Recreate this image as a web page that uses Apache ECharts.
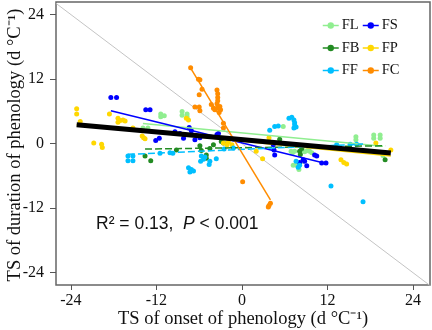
<!DOCTYPE html>
<html><head><meta charset="utf-8">
<script src="https://cdn.jsdelivr.net/npm/echarts@6/dist/echarts.min.js"></script>
<style>html,body{margin:0;padding:0;background:#fff}#c{width:432px;height:330px}</style>
</head><body><div id="c"></div>
<script>
const groups = ['FL','FS','FB','FP','FF','FC'];
const colors = ['#90EE90','#0000FF','#228B22','#FFD700','#00BFFF','#FF8C00'];
const dashed = [false,false,true,false,true,false];

const FL = [[-13.9,2.9],[-13.2,2.9],[-11.4,5.0],[-11.4,5.5],[-10.9,5.2],[-8.4,6.0],[-8.4,5.3],[-7.7,5.5],[-7.7,5.0],[5.8,3.2],[6.9,-1.4],[7.1,-1.7],[7.4,-1.4],[8.4,-1.2],[8.8,-1.5],[9.2,-1.3],[9.5,-1.4],[9.8,-1.7],[7.2,-4.0],[7.7,-4.0],[8.0,-4.8],[8.5,-3.3],[16.0,1.3],[16.0,0.7],[18.5,1.6],[18.5,1.0],[19.4,1.6],[19.4,1.0],[19.8,-2.2]];
const FS = [[-18.4,8.6],[-17.6,8.6],[-13.5,6.3],[-12.9,6.3],[-12.1,0.6],[-11.6,1.0],[-9.4,2.2],[-8.7,1.9],[-8.2,1.0],[-7.4,3.0],[-7.1,2.4],[-6.6,0.7],[-5.9,1.1],[-3.5,1.7],[-3.3,1.9],[4.4,-0.2],[4.5,-1.2],[4.6,-2.1],[8.1,-3.5],[8.6,-3.0],[8.8,-3.3],[9.1,-4.1],[10.2,-2.1],[10.5,-2.3],[11.2,-3.6],[11.8,-3.6]];
const FB = [[-13.6,-2.3],[-12.8,-3.2],[-9.2,-1.2],[-5.9,-0.4],[-5.7,-1.3],[-5.0,-2.1],[-4.5,-0.9],[-4.0,-0.2],[-5.0,-2.7],[-2.9,0.4],[-2.6,0.1],[5.3,0.8],[8.1,-1.4],[8.4,-0.9],[8.2,-2.0],[20.1,-3.0]];
const FP = [[-23.2,6.5],[-23.2,5.5],[-22.7,4.1],[-20.8,0.1],[-19.7,-0.1],[-19.6,-0.7],[-18.6,5.5],[-17.4,4.7],[-17.1,4.3],[-17.4,4.0],[-16.7,4.4],[-16.4,4.2],[-15.3,2.9],[-14.0,1.4],[-13.8,1.1],[-13.6,0.9],[-7.8,4.7],[-7.5,4.4],[-2.6,0.1],[-2.1,-0.2],[-1.9,0.3],[-1.4,-0.2],[2.0,-1.4],[2.9,-2.8],[3.8,1.1],[13.9,-3.0],[14.3,-3.5],[14.7,-3.8],[18.8,0.1],[20.9,-1.2]];
const FF = [[-16.0,-2.3],[-16.0,-3.2],[-15.3,-2.3],[-15.3,-3.2],[-11.5,-1.8],[-10.1,-1.7],[-9.7,-1.8],[-7.5,-4.5],[-7.1,-4.8],[-6.8,-5.1],[-7.3,-5.3],[-5.7,-2.3],[-5.4,-2.9],[-5.2,-2.5],[-5.8,-3.3],[-4.5,-3.3],[-3.6,-2.8],[-4.6,-3.9],[-2.5,-1.0],[-1.2,-0.8],[3.9,2.5],[4.6,3.2],[5.1,3.3],[6.6,4.7],[7.0,4.9],[7.3,4.4],[7.4,3.9],[7.4,3.5],[7.6,3.1],[7.3,2.9],[7.6,-3.3],[8.1,-4.0],[7.9,-4.4],[12.5,-7.9],[17.0,-10.8],[13.3,-0.2],[15.2,-0.1],[16.1,-0.1]];
const FC = [[-7.2,14.1],[-6.1,12.0],[-5.9,11.9],[-5.6,10.1],[-6.0,9.1],[-6.6,6.8],[-6.0,6.8],[-5.9,6.1],[-3.5,10.0],[-3.4,9.3],[-3.4,8.6],[-3.4,8.0],[-3.5,7.4],[-4.3,7.3],[-4.0,6.6],[-3.8,6.3],[-3.5,6.6],[-3.1,6.9],[-3.0,6.3],[-3.2,5.8],[-2.6,3.8],[-2.6,2.9],[0.1,-7.1],[3.8,-11.5],[4.0,-11.1],[3.7,-11.8]];
const groupData = [FL, FS, FB, FP, FF, FC];

const fitIntercept = [2.0, 0.12, -0.76, 0.45, -1.07, -1.7];
const fitSlope = [-0.125, -0.325, 0.018, -0.132, 0.058, -2.19];
const allIntercept = 0.75;
const allSlope = -0.12;

const xTicks = [-24, -12, 0, 12, 24];
const yTicks = [-24, -12, 0, 12, 24];
const xRange = [-26.1, 26.4];
const yRange = [-26.3, 26.35];

const xTitle = 'TS of onset of phenology (d °C⁻¹)';
const yTitle = 'TS of duration of phenology (d °C⁻¹)';

const serif = 'Liberation Serif';
const txt = '#111';

function fitLine(pts, a, b) {
  const xs = pts.map(p => p[0]);
  const lo = Math.min(...xs), hi = Math.max(...xs);
  return [[lo, a + b * lo], [hi, a + b * hi]];
}

const series = [];
series.push({
  type: 'line', silent: true, symbol: 'none', z: 1,
  data: [[xRange[0], -xRange[0]], [xRange[1], -xRange[1]]],
  lineStyle: { color: '#c4c4c4', width: 1 }
});
groups.forEach((g, i) => {
  series.push({
    name: g, type: 'line', z: 4, symbol: 'circle', symbolSize: 4, showSymbol: false,
    data: fitLine(groupData[i], fitIntercept[i], fitSlope[i]),
    itemStyle: { color: colors[i] },
    lineStyle: { color: colors[i], width: 1.5, type: dashed[i] ? [7, 3] : 'solid' }
  });
});
groups.forEach((g, i) => {
  series.push({
    name: g, type: 'scatter', z: 3, symbolSize: 5,
    data: groupData[i],
    itemStyle: { color: colors[i], opacity: 1 }
  });
});
const allPts = [].concat(...groupData);
series.push({
  type: 'line', z: 5, symbol: 'none', silent: true,
  data: fitLine(allPts, allIntercept, allSlope),
  lineStyle: { color: '#000', width: 5 }
});

const legendBase = {
  orient: 'vertical', top: 13, itemWidth: 16, itemHeight: 8, itemGap: 7.5,
  textStyle: { fontFamily: serif, fontSize: 14.5, color: txt, padding: [0, 0, 0, -2] },
  lineStyle: { type: 'solid', width: 1.5 },
  selectedMode: false
};

const chart = echarts.init(document.getElementById('c'));
chart.setOption({
  animation: false,
  grid: { left: 56, top: 2, width: 374, height: 283, show: true, borderColor: '#666', borderWidth: 1.5, outerBoundsMode: 'none', containLabel: false },
  legend: [
    Object.assign({}, legendBase, { left: 317, data: ['FL', 'FB', 'FF'] }),
    Object.assign({}, legendBase, { left: 357, data: ['FS', 'FP', 'FC'] })
  ],
  xAxis: {
    type: 'value', min: xRange[0], max: xRange[1],
    axisLine: { show: false, onZero: false },
    axisTick: { show: true, length: 5, customValues: xTicks, lineStyle: { color: '#555' } },
    axisLabel: { customValues: xTicks, margin: 8, fontFamily: serif, fontSize: 16, color: txt },
    splitLine: { show: false }
  },
  yAxis: {
    type: 'value', min: yRange[0], max: yRange[1],
    axisLine: { show: false, onZero: false },
    axisTick: { show: true, length: 6, customValues: yTicks, lineStyle: { color: '#555' } },
    axisLabel: { customValues: yTicks, margin: 12, fontFamily: serif, fontSize: 16, color: txt },
    splitLine: { show: false }
  },
  graphic: [{
    type: 'text', x: 243, y: 319, z: 10,
    style: { text: xTitle, fontFamily: serif, fontSize: 18.5, fill: txt, align: 'center', verticalAlign: 'middle' }
  }, {
    type: 'text', x: 15, y: 145, rotation: Math.PI / 2, z: 10,
    style: { text: yTitle, fontFamily: serif, fontSize: 18.5, fill: txt, align: 'center', verticalAlign: 'middle' }
  }, {
    type: 'text', left: 96, top: 215, z: 10,
    style: {
      text: '{n|R² = 0.13,  }{i|P}{n| < 0.001}',
      rich: {
        n: { fontFamily: 'Liberation Sans', fontSize: 17.5, fill: txt },
        i: { fontFamily: 'Liberation Sans', fontSize: 17.5, fontStyle: 'italic', fill: txt }
      }
    }
  }],
  series: series
});
</script></body></html>
